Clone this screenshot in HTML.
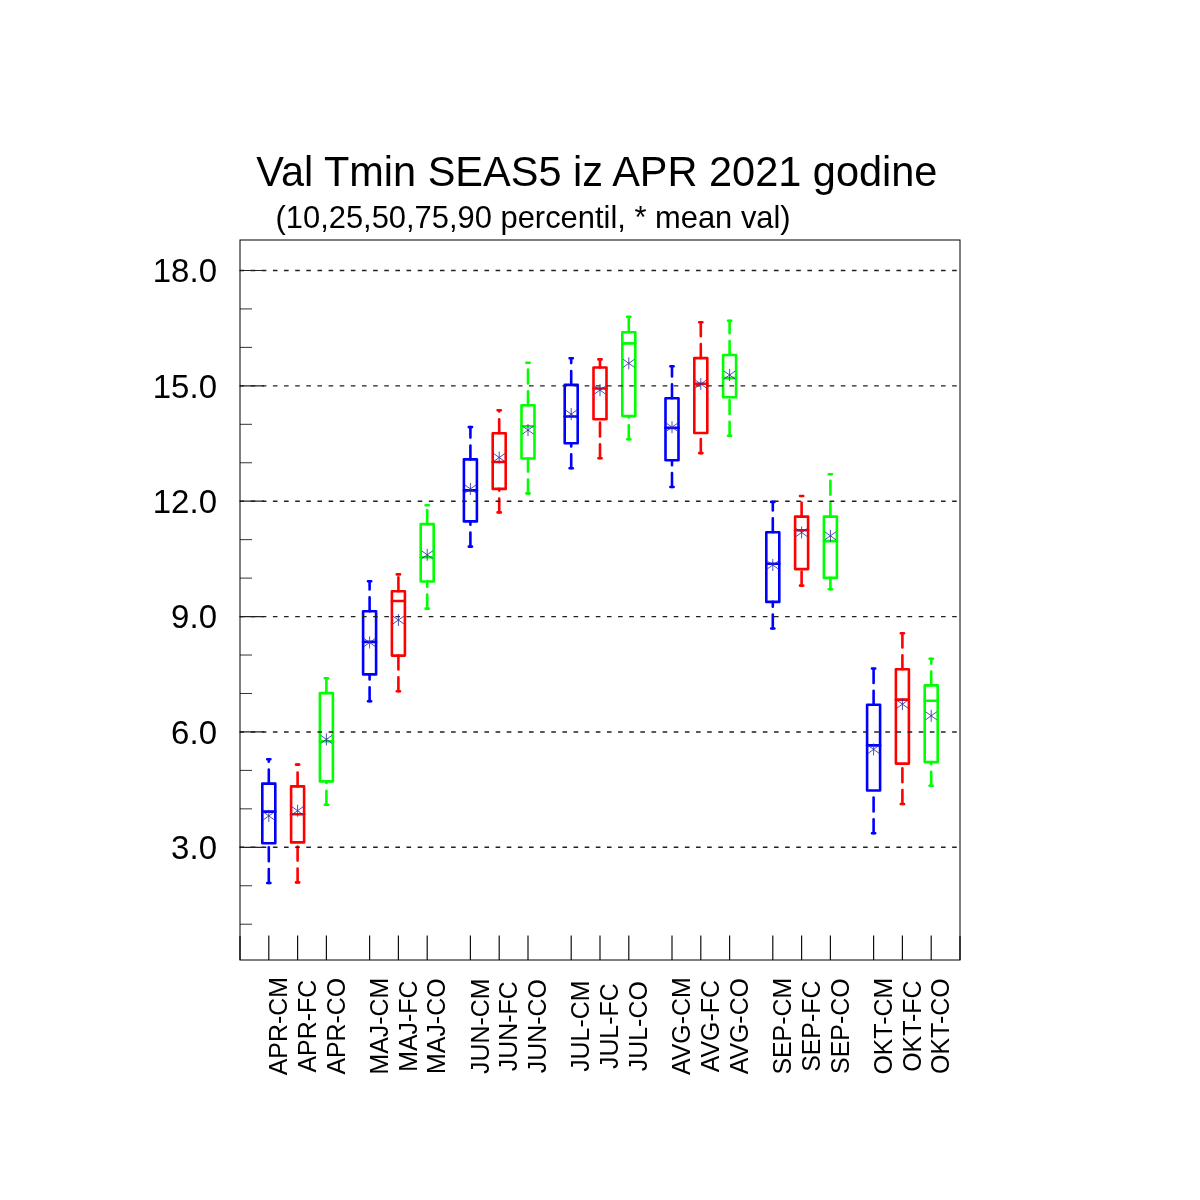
<!DOCTYPE html>
<html><head><meta charset="utf-8"><style>
html,body{margin:0;padding:0;background:#fff;width:1200px;height:1200px;overflow:hidden}
svg{display:block;will-change:transform}
text{font-family:"Liberation Sans",sans-serif;fill:#000}
</style></head><body>
<svg width="1200" height="1200" viewBox="0 0 1200 1200">
<rect width="1200" height="1200" fill="#fff"/>

<g fill="none" stroke-width="2.6">
<g stroke="#0000ff">
<path d="M268.8 783.6V759.3M268.8 883V843.3" stroke-dasharray="13.95 7.85" stroke-width="2.6" stroke-linecap="round"/>
<path d="M267.18 759.3H270.43M267.18 883H270.43" stroke-linecap="round"/>
<path d="M262.3 783.6H275.3M275.3 783.6V843.3M275.3 843.3H262.3M262.3 843.3V783.6" stroke-linecap="round"/>
<path d="M262.3 811.6H275.3" stroke-linecap="round"/>
</g>
<g stroke="#ff0000">
<path d="M297.6 786.4V764.6M297.6 882.4V842.4" stroke-dasharray="13.95 7.85" stroke-width="2.6" stroke-linecap="round"/>
<path d="M295.98 764.6H299.23M295.98 882.4H299.23" stroke-linecap="round"/>
<path d="M291.1 786.4H304.1M304.1 786.4V842.4M304.1 842.4H291.1M291.1 842.4V786.4" stroke-linecap="round"/>
<path d="M291.1 814.2H304.1" stroke-linecap="round"/>
</g>
<g stroke="#00ff00">
<path d="M326.4 693.1V678.2M326.4 804.8V781.4" stroke-dasharray="13.95 7.85" stroke-width="2.6" stroke-linecap="round"/>
<path d="M324.77 678.2H328.02M324.77 804.8H328.02" stroke-linecap="round"/>
<path d="M319.9 693.1H332.9M332.9 693.1V781.4M332.9 781.4H319.9M319.9 781.4V693.1" stroke-linecap="round"/>
<path d="M319.9 741.2H332.9" stroke-linecap="round"/>
</g>
<g stroke="#0000ff">
<path d="M369.6 611.25V581.25M369.6 701.25V674.4" stroke-dasharray="13.95 7.85" stroke-width="2.6" stroke-linecap="round"/>
<path d="M367.98 581.25H371.23M367.98 701.25H371.23" stroke-linecap="round"/>
<path d="M363.1 611.25H376.1M376.1 611.25V674.4M376.1 674.4H363.1M363.1 674.4V611.25" stroke-linecap="round"/>
<path d="M363.1 641.9H376.1" stroke-linecap="round"/>
</g>
<g stroke="#ff0000">
<path d="M398.4 591.25V574.4M398.4 691.25V655.6" stroke-dasharray="13.95 7.85" stroke-width="2.6" stroke-linecap="round"/>
<path d="M396.77 574.4H400.02M396.77 691.25H400.02" stroke-linecap="round"/>
<path d="M391.9 591.25H404.9M404.9 591.25V655.6M404.9 655.6H391.9M391.9 655.6V591.25" stroke-linecap="round"/>
<path d="M391.9 601H404.9" stroke-linecap="round"/>
</g>
<g stroke="#00ff00">
<path d="M427.2 524.1V505.2M427.2 608.6V581.5" stroke-dasharray="13.95 7.85" stroke-width="2.6" stroke-linecap="round"/>
<path d="M425.57 505.2H428.82M425.57 608.6H428.82" stroke-linecap="round"/>
<path d="M420.7 524.1H433.7M433.7 524.1V581.5M433.7 581.5H420.7M420.7 581.5V524.1" stroke-linecap="round"/>
<path d="M420.7 557.2H433.7" stroke-linecap="round"/>
</g>
<g stroke="#0000ff">
<path d="M470.4 459.4V427.1M470.4 546.6V521.4" stroke-dasharray="13.95 7.85" stroke-width="2.6" stroke-linecap="round"/>
<path d="M468.77 427.1H472.02M468.77 546.6H472.02" stroke-linecap="round"/>
<path d="M463.9 459.4H476.9M476.9 459.4V521.4M476.9 521.4H463.9M463.9 521.4V459.4" stroke-linecap="round"/>
<path d="M463.9 490.4H476.9" stroke-linecap="round"/>
</g>
<g stroke="#ff0000">
<path d="M499.2 433.3V410.3M499.2 512.4V488.9" stroke-dasharray="13.95 7.85" stroke-width="2.6" stroke-linecap="round"/>
<path d="M497.57 410.3H500.82M497.57 512.4H500.82" stroke-linecap="round"/>
<path d="M492.7 433.3H505.7M505.7 433.3V488.9M505.7 488.9H492.7M492.7 488.9V433.3" stroke-linecap="round"/>
<path d="M492.7 462H505.7" stroke-linecap="round"/>
</g>
<g stroke="#00ff00">
<path d="M528 405.3V362.7M528 493.4V458.5" stroke-dasharray="13.95 7.85" stroke-width="2.6" stroke-linecap="round"/>
<path d="M526.38 362.7H529.62M526.38 493.4H529.62" stroke-linecap="round"/>
<path d="M521.5 405.3H534.5M534.5 405.3V458.5M534.5 458.5H521.5M521.5 458.5V405.3" stroke-linecap="round"/>
<path d="M521.5 426.2H534.5" stroke-linecap="round"/>
</g>
<g stroke="#0000ff">
<path d="M571.2 384.9V358.3M571.2 468.2V443.2" stroke-dasharray="13.95 7.85" stroke-width="2.6" stroke-linecap="round"/>
<path d="M569.58 358.3H572.83M569.58 468.2H572.83" stroke-linecap="round"/>
<path d="M564.7 384.9H577.7M577.7 384.9V443.2M577.7 443.2H564.7M564.7 443.2V384.9" stroke-linecap="round"/>
<path d="M564.7 416.5H577.7" stroke-linecap="round"/>
</g>
<g stroke="#ff0000">
<path d="M600 367.5V359.4M600 458.3V419.3" stroke-dasharray="13.95 7.85" stroke-width="2.6" stroke-linecap="round"/>
<path d="M598.38 359.4H601.62M598.38 458.3H601.62" stroke-linecap="round"/>
<path d="M593.5 367.5H606.5M606.5 367.5V419.3M606.5 419.3H593.5M593.5 419.3V367.5" stroke-linecap="round"/>
<path d="M593.5 388.5H606.5" stroke-linecap="round"/>
</g>
<g stroke="#00ff00">
<path d="M628.8 332.2V316.7M628.8 439.3V416.1" stroke-dasharray="13.95 7.85" stroke-width="2.6" stroke-linecap="round"/>
<path d="M627.17 316.7H630.42M627.17 439.3H630.42" stroke-linecap="round"/>
<path d="M622.3 332.2H635.3M635.3 332.2V416.1M635.3 416.1H622.3M622.3 416.1V332.2" stroke-linecap="round"/>
<path d="M622.3 343.4H635.3" stroke-linecap="round"/>
</g>
<g stroke="#0000ff">
<path d="M672 398.2V366.3M672 487V460.3" stroke-dasharray="13.95 7.85" stroke-width="2.6" stroke-linecap="round"/>
<path d="M670.38 366.3H673.62M670.38 487H673.62" stroke-linecap="round"/>
<path d="M665.5 398.2H678.5M678.5 398.2V460.3M678.5 460.3H665.5M665.5 460.3V398.2" stroke-linecap="round"/>
<path d="M665.5 427.9H678.5" stroke-linecap="round"/>
</g>
<g stroke="#ff0000">
<path d="M700.8 358.1V322.3M700.8 453.1V433" stroke-dasharray="13.95 7.85" stroke-width="2.6" stroke-linecap="round"/>
<path d="M699.17 322.3H702.42M699.17 453.1H702.42" stroke-linecap="round"/>
<path d="M694.3 358.1H707.3M707.3 358.1V433M707.3 433H694.3M694.3 433V358.1" stroke-linecap="round"/>
<path d="M694.3 383.7H707.3" stroke-linecap="round"/>
</g>
<g stroke="#00ff00">
<path d="M729.6 355V320.7M729.6 435.8V397.2" stroke-dasharray="13.95 7.85" stroke-width="2.6" stroke-linecap="round"/>
<path d="M727.98 320.7H731.23M727.98 435.8H731.23" stroke-linecap="round"/>
<path d="M723.1 355H736.1M736.1 355V397.2M736.1 397.2H723.1M723.1 397.2V355" stroke-linecap="round"/>
<path d="M723.1 378.1H736.1" stroke-linecap="round"/>
</g>
<g stroke="#0000ff">
<path d="M772.8 532.25V501.9M772.8 628.5V601.9" stroke-dasharray="13.95 7.85" stroke-width="2.6" stroke-linecap="round"/>
<path d="M771.17 501.9H774.42M771.17 628.5H774.42" stroke-linecap="round"/>
<path d="M766.3 532.25H779.3M779.3 532.25V601.9M779.3 601.9H766.3M766.3 601.9V532.25" stroke-linecap="round"/>
<path d="M766.3 563.75H779.3" stroke-linecap="round"/>
</g>
<g stroke="#ff0000">
<path d="M801.6 516.6V496M801.6 585.6V569.1" stroke-dasharray="13.95 7.85" stroke-width="2.6" stroke-linecap="round"/>
<path d="M799.98 496H803.23M799.98 585.6H803.23" stroke-linecap="round"/>
<path d="M795.1 516.6H808.1M808.1 516.6V569.1M808.1 569.1H795.1M795.1 569.1V516.6" stroke-linecap="round"/>
<path d="M795.1 530.25H808.1" stroke-linecap="round"/>
</g>
<g stroke="#00ff00">
<path d="M830.4 516.6V474.2M830.4 589.3V577.9" stroke-dasharray="13.95 7.85" stroke-width="2.6" stroke-linecap="round"/>
<path d="M828.77 474.2H832.02M828.77 589.3H832.02" stroke-linecap="round"/>
<path d="M823.9 516.6H836.9M836.9 516.6V577.9M836.9 577.9H823.9M823.9 577.9V516.6" stroke-linecap="round"/>
<path d="M823.9 541.1H836.9" stroke-linecap="round"/>
</g>
<g stroke="#0000ff">
<path d="M873.6 704.8V668.5M873.6 833.3V790.5" stroke-dasharray="13.95 7.85" stroke-width="2.6" stroke-linecap="round"/>
<path d="M871.98 668.5H875.23M871.98 833.3H875.23" stroke-linecap="round"/>
<path d="M867.1 704.8H880.1M880.1 704.8V790.5M880.1 790.5H867.1M867.1 790.5V704.8" stroke-linecap="round"/>
<path d="M867.1 745.4H880.1" stroke-linecap="round"/>
</g>
<g stroke="#ff0000">
<path d="M902.4 669.3V633.3M902.4 804V763.6" stroke-dasharray="13.95 7.85" stroke-width="2.6" stroke-linecap="round"/>
<path d="M900.77 633.3H904.02M900.77 804H904.02" stroke-linecap="round"/>
<path d="M895.9 669.3H908.9M908.9 669.3V763.6M908.9 763.6H895.9M895.9 763.6V669.3" stroke-linecap="round"/>
<path d="M895.9 699.6H908.9" stroke-linecap="round"/>
</g>
<g stroke="#00ff00">
<path d="M931.2 685.4V658.75M931.2 785.8V762.1" stroke-dasharray="13.95 7.85" stroke-width="2.6" stroke-linecap="round"/>
<path d="M929.58 658.75H932.83M929.58 785.8H932.83" stroke-linecap="round"/>
<path d="M924.7 685.4H937.7M937.7 685.4V762.1M937.7 762.1H924.7M924.7 762.1V685.4" stroke-linecap="round"/>
<path d="M924.7 700.8H937.7" stroke-linecap="round"/>
</g>
</g>
<g stroke="#202020" stroke-width="1.4" stroke-dasharray="4.6 6.535">
<path d="M239.5 847.3H960"/>
<path d="M239.5 731.94H960"/>
<path d="M239.5 616.58H960"/>
<path d="M239.5 501.21H960"/>
<path d="M239.5 385.85H960"/>
<path d="M239.5 270.48H960"/>
</g>
<g stroke="#3030a0" stroke-width="0.85" fill="none">
<path d="M268.8 809.9V821.9M263.2 811.9L274.4 819.9M263.2 819.9L274.4 811.9"/>
<path d="M297.6 804.7V816.7M292 806.7L303.2 814.7M292 814.7L303.2 806.7"/>
<path d="M326.4 733.4V745.4M320.8 735.4L332 743.4M320.8 743.4L332 735.4"/>
<path d="M369.6 636.5V648.5M364 638.5L375.2 646.5M364 646.5L375.2 638.5"/>
<path d="M398.4 614V626M392.8 616L404 624M392.8 624L404 616"/>
<path d="M427.2 548.8V560.8M421.6 550.8L432.8 558.8M421.6 558.8L432.8 550.8"/>
<path d="M470.4 482.9V494.9M464.8 484.9L476 492.9M464.8 492.9L476 484.9"/>
<path d="M499.2 451.5V463.5M493.6 453.5L504.8 461.5M493.6 461.5L504.8 453.5"/>
<path d="M528 424.1V436.1M522.4 426.1L533.6 434.1M522.4 434.1L533.6 426.1"/>
<path d="M571.2 408.1V420.1M565.6 410.1L576.8 418.1M565.6 418.1L576.8 410.1"/>
<path d="M600 384.1V396.1M594.4 386.1L605.6 394.1M594.4 394.1L605.6 386.1"/>
<path d="M628.8 357.3V369.3M623.2 359.3L634.4 367.3M623.2 367.3L634.4 359.3"/>
<path d="M672 421.2V433.2M666.4 423.2L677.6 431.2M666.4 431.2L677.6 423.2"/>
<path d="M700.8 378V390M695.2 380L706.4 388M695.2 388L706.4 380"/>
<path d="M729.6 369V381M724 371L735.2 379M724 379L735.2 371"/>
<path d="M772.8 559V571M767.2 561L778.4 569M767.2 569L778.4 561"/>
<path d="M801.6 526.5V538.5M796 528.5L807.2 536.5M796 536.5L807.2 528.5"/>
<path d="M830.4 529.8V541.8M824.8 531.8L836 539.8M824.8 539.8L836 531.8"/>
<path d="M873.6 743.4V755.4M868 745.4L879.2 753.4M868 753.4L879.2 745.4"/>
<path d="M902.4 698.2V710.2M896.8 700.2L908 708.2M896.8 708.2L908 700.2"/>
<path d="M931.2 709.8V721.8M925.6 711.8L936.8 719.8M925.6 719.8L936.8 711.8"/>
</g>
<g stroke="#111" stroke-width="1.2">
<path d="M268.8 960V935.5M297.6 960V935.5M326.4 960V935.5M369.6 960V935.5M398.4 960V935.5M427.2 960V935.5M470.4 960V935.5M499.2 960V935.5M528 960V935.5M571.2 960V935.5M600 960V935.5M628.8 960V935.5M672 960V935.5M700.8 960V935.5M729.6 960V935.5M772.8 960V935.5M801.6 960V935.5M830.4 960V935.5M873.6 960V935.5M902.4 960V935.5M931.2 960V935.5M240 960V936M960 960V936"/>
</g>
<path d="M240 847.3H264M240 731.94H264M240 616.58H264M240 501.21H264M240 385.85H264M240 270.48H264" stroke="#222" stroke-width="1.2"/>
<g stroke="#333" stroke-width="1">
<path d="M240 924.21H252M240 885.76H252M240 808.85H252M240 770.39H252M240 693.48H252M240 655.03H252M240 578.12H252M240 539.66H252M240 462.75H252M240 424.3H252M240 347.39H252M240 308.93H252"/>
</g>
<rect x="240" y="240" width="720" height="720" fill="none" stroke="#000" stroke-width="1"/>
<text transform="translate(256.3,186) scale(1,1.04)" font-size="41.5">Val Tmin SEAS5 iz APR 2021 godine</text>
<text transform="translate(275.5,227.5)" font-size="30.9">(10,25,50,75,90 percentil, * mean val)</text>
<text transform="translate(217,859) scale(1,1.02)" font-size="33" text-anchor="end">3.0</text>
<text transform="translate(217,743.64) scale(1,1.02)" font-size="33" text-anchor="end">6.0</text>
<text transform="translate(217,628.28) scale(1,1.02)" font-size="33" text-anchor="end">9.0</text>
<text transform="translate(217,512.91) scale(1,1.02)" font-size="33" text-anchor="end">12.0</text>
<text transform="translate(217,397.55) scale(1,1.02)" font-size="33" text-anchor="end">15.0</text>
<text transform="translate(217,282.18) scale(1,1.02)" font-size="33" text-anchor="end">18.0</text>
<text transform="translate(287,1026.2) rotate(-90) scale(1,1.035)" font-size="24.9" text-anchor="middle">APR-CM</text>
<text transform="translate(315.8,1026.2) rotate(-90) scale(1,1.035)" font-size="24.9" text-anchor="middle">APR-FC</text>
<text transform="translate(344.6,1026.2) rotate(-90) scale(1,1.035)" font-size="24.9" text-anchor="middle">APR-CO</text>
<text transform="translate(387.8,1026.2) rotate(-90) scale(1,1.035)" font-size="24.9" text-anchor="middle">MAJ-CM</text>
<text transform="translate(416.6,1026.2) rotate(-90) scale(1,1.035)" font-size="24.9" text-anchor="middle">MAJ-FC</text>
<text transform="translate(445.4,1026.2) rotate(-90) scale(1,1.035)" font-size="24.9" text-anchor="middle">MAJ-CO</text>
<text transform="translate(488.6,1026.2) rotate(-90) scale(1,1.035)" font-size="24.9" text-anchor="middle">JUN-CM</text>
<text transform="translate(517.4,1026.2) rotate(-90) scale(1,1.035)" font-size="24.9" text-anchor="middle">JUN-FC</text>
<text transform="translate(546.2,1026.2) rotate(-90) scale(1,1.035)" font-size="24.9" text-anchor="middle">JUN-CO</text>
<text transform="translate(589.4,1026.2) rotate(-90) scale(1,1.035)" font-size="24.9" text-anchor="middle">JUL-CM</text>
<text transform="translate(618.2,1026.2) rotate(-90) scale(1,1.035)" font-size="24.9" text-anchor="middle">JUL-FC</text>
<text transform="translate(647,1026.2) rotate(-90) scale(1,1.035)" font-size="24.9" text-anchor="middle">JUL-CO</text>
<text transform="translate(690.2,1026.2) rotate(-90) scale(1,1.035)" font-size="24.9" text-anchor="middle">AVG-CM</text>
<text transform="translate(719,1026.2) rotate(-90) scale(1,1.035)" font-size="24.9" text-anchor="middle">AVG-FC</text>
<text transform="translate(747.8,1026.2) rotate(-90) scale(1,1.035)" font-size="24.9" text-anchor="middle">AVG-CO</text>
<text transform="translate(791,1026.2) rotate(-90) scale(1,1.035)" font-size="24.9" text-anchor="middle">SEP-CM</text>
<text transform="translate(819.8,1026.2) rotate(-90) scale(1,1.035)" font-size="24.9" text-anchor="middle">SEP-FC</text>
<text transform="translate(848.6,1026.2) rotate(-90) scale(1,1.035)" font-size="24.9" text-anchor="middle">SEP-CO</text>
<text transform="translate(891.8,1026.2) rotate(-90) scale(1,1.035)" font-size="24.9" text-anchor="middle">OKT-CM</text>
<text transform="translate(920.6,1026.2) rotate(-90) scale(1,1.035)" font-size="24.9" text-anchor="middle">OKT-FC</text>
<text transform="translate(949.4,1026.2) rotate(-90) scale(1,1.035)" font-size="24.9" text-anchor="middle">OKT-CO</text>
</svg>
</body></html>
